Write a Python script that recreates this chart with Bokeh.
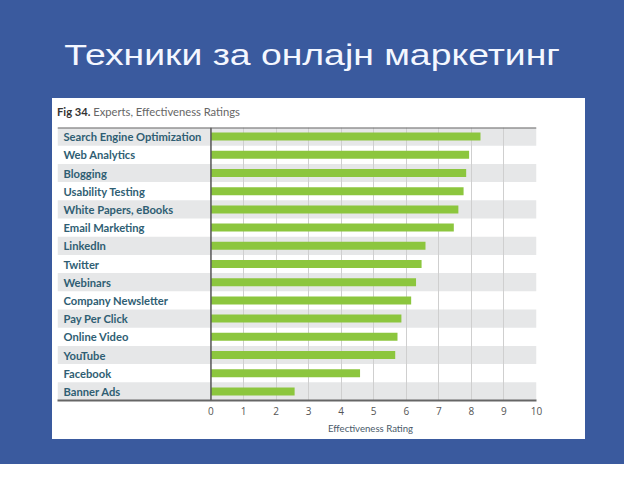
from bokeh.plotting import figure
from bokeh.models import FactorRange, Range1d, FixedTicker, Span, Div, Column
from bokeh.core.properties import value
from bokeh.embed import file_html
from bokeh.resources import INLINE

# ---- data ----
categories = [
    "Search Engine Optimization", "Web Analytics", "Blogging", "Usability Testing",
    "White Papers, eBooks", "Email Marketing", "LinkedIn", "Twitter", "Webinars",
    "Company Newsletter", "Pay Per Click", "Online Video", "YouTube", "Facebook",
    "Banner Ads",
]
ratings = [8.28, 7.93, 7.84, 7.76, 7.60, 7.46, 6.59, 6.47, 6.30,
           6.15, 5.85, 5.73, 5.66, 4.58, 2.57]
x_ticks = [0, 1, 2, 3, 4, 5, 6, 7, 8, 9, 10]
page_title = "Техники за онлајн маркетинг"
fig_label = "Fig 34."
fig_caption = "Experts, Effectiveness Ratings"
x_title = "Effectiveness Rating"

BLUE = "#3A5A9E"
X_START = -4.714
X_END = 10

title_div = Div(
    text=('<div style="width:624px;text-align:center;padding-top:40px;">'
          '<span style="display:inline-block;transform:scaleX(1.245);transform-origin:center;'
          'font-family:\'Liberation Sans\',Arial,sans-serif;font-size:30px;'
          'line-height:30px;color:#F4F7FF;white-space:nowrap;">' + page_title + '</span></div>'),
    width=624, height=98, margin=0,
)

caption_div = Div(
    text=('<div style="padding-top:7px;padding-left:5px;font-family:Lato,sans-serif;'
          'font-size:11.2px;line-height:13px;color:#666666;white-space:nowrap;">'
          '<b style="color:#333333;">' + fig_label + '</b> ' + fig_caption + '</div>'),
    width=533, height=25, margin=0,
)

p = figure(
    width=533, height=297,
    x_range=Range1d(X_START, X_END),
    y_range=FactorRange(factors=list(reversed(categories))),
    output_backend="svg", toolbar_location=None, tools="",
    y_axis_location=None,
    min_border_left=5, min_border_right=49, min_border_top=4, min_border_bottom=20,
    margin=0,
)
p.background_fill_color = "white"
p.border_fill_color = "white"
p.outline_line_color = None

# alternating row bands
band_rows = categories[::2]
bands = p.hbar(y=band_rows, left=X_START, right=X_END, height=1.0,
               fill_color="#E6E7E8", line_color=None)
bands.level = "image"

# bars
p.hbar(y=categories, left=0, right=ratings, height=0.44,
       fill_color="#8CC63E", line_color=None)

# grid
p.ygrid.grid_line_color = None
p.xgrid.ticker = FixedTicker(ticks=x_ticks[1:])
p.xgrid.grid_line_color = "#CFCFCF"
p.xgrid.grid_line_width = 1

# x axis
ax = p.xaxis[0]
ax.ticker = FixedTicker(ticks=x_ticks)
ax.major_tick_in = 0
ax.major_tick_out = 0
ax.minor_tick_in = 0
ax.minor_tick_out = 0
ax.axis_line_color = "#666666"
ax.axis_line_width = 2
ax.major_label_standoff = 6
ax.major_label_text_font = "Open Sans"
ax.major_label_text_font_size = "10px"
ax.major_label_text_color = "#555555"

# vertical zero line and top rule
p.add_layout(Span(location=0, dimension="height", line_color="#555555", line_width=1.5))
p.add_layout(Span(location=len(categories), dimension="width", line_color="#666666", line_width=2))

# category labels
p.text(x=X_START, y=categories, text=categories, x_offset=6,
       text_baseline="middle", text_align="left",
       text_font=value("Lato"), text_font_style="bold",
       text_font_size="11.2px", text_color="#2F5E73")

xtitle_div = Div(
    text=('<div style="padding-top:2px;padding-left:276px;font-family:Lato,sans-serif;'
          'font-size:9.6px;line-height:12px;color:#4A5A6A;white-space:nowrap;">'
          + x_title + '</div>'),
    width=533, height=19, margin=0,
)

panel = Column(children=[caption_div, p, xtitle_div], width=533, height=341, spacing=0,
               margin=(0, 39, 25, 52), styles={"background-color": "white"})

layout = Column(children=[title_div, panel], width=624, height=464, spacing=0,
                styles={"background-color": BLUE})

open("out.html", "w").write(file_html(layout, INLINE))
